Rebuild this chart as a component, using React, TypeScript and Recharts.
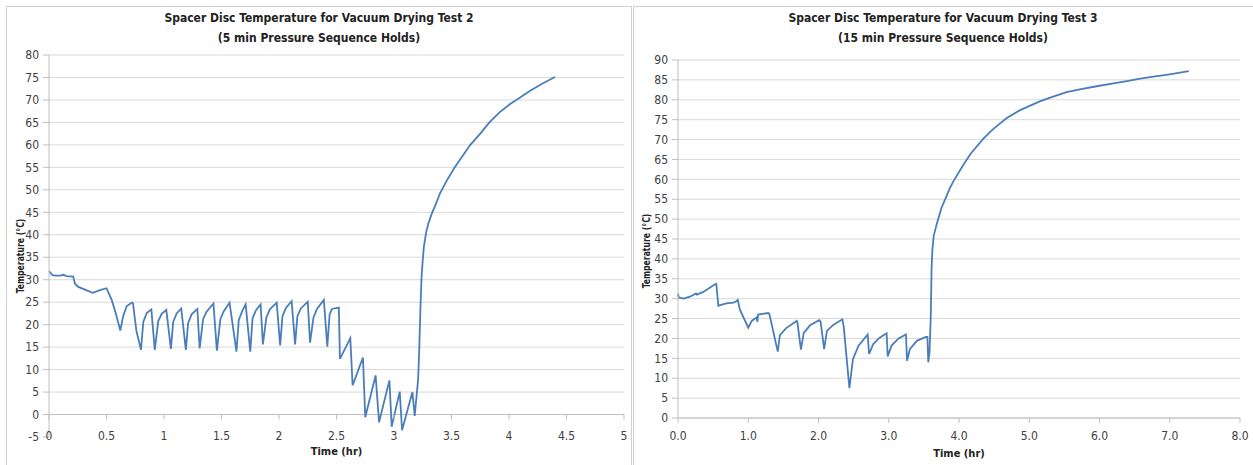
import React from 'react';
import { LineChart, Line, XAxis, YAxis, CartesianGrid, ReferenceLine } from 'recharts';

// ---- Test 2 (left chart) ----
const test2Time = [
  0, 0.015, 0.03, 0.06, 0.096, 0.125, 0.15, 0.21, 0.226, 0.255, 0.313, 0.38, 0.443, 0.5,
  0.545, 0.58, 0.62, 0.645, 0.675, 0.72, 0.73,
  0.76, 0.8, 0.82, 0.85, 0.89,
  0.92, 0.95, 0.98, 1.02,
  1.06, 1.08, 1.11, 1.15,
  1.19, 1.21, 1.24, 1.29,
  1.31, 1.34, 1.37, 1.43,
  1.46, 1.49, 1.52, 1.57,
  1.63, 1.65, 1.68, 1.71,
  1.75, 1.77, 1.8, 1.84,
  1.86, 1.89, 1.92, 1.98,
  2.01, 2.03, 2.06, 2.11,
  2.14, 2.16, 2.19, 2.25,
  2.27, 2.3, 2.33, 2.39,
  2.42, 2.44, 2.46, 2.52,
  2.53, 2.62,
  2.64, 2.73,
  2.75, 2.84,
  2.87, 2.96,
  2.98, 3.05,
  3.07, 3.16,
  3.18, 3.21, 3.22, 3.23, 3.24, 3.25, 3.26, 3.28, 3.3, 3.33, 3.36, 3.4, 3.46, 3.52, 3.59, 3.66,
  3.75, 3.83, 3.92, 4.01, 4.1, 4.18, 4.28, 4.4,
];
const test2Temp = [
  31.9, 31.5, 31.0, 30.9, 30.9, 31.1, 30.8, 30.7, 29.1, 28.4, 27.8, 27.1, 27.7, 28.1,
  25.5, 22.6, 18.7, 21.9, 24.1, 24.9, 24.8,
  18.6, 14.4, 20.6, 22.6, 23.4,
  14.4, 20.8, 22.4, 23.3,
  14.6, 20.6, 22.5, 23.6,
  14.4, 20.4, 22.3, 23.5,
  14.7, 21.2, 22.9, 24.7,
  14.2, 21.2, 23.0, 24.9,
  14.0, 21.0, 23.0, 24.5,
  14.0, 21.4, 23.2, 24.5,
  15.6, 21.6, 23.4, 24.9,
  15.4, 21.9, 23.7, 25.2,
  15.6, 21.9, 23.6, 25.1,
  16.0, 21.6, 23.5, 25.5,
  15.1, 22.2, 23.5, 23.8,
  12.4, 17.0,
  6.5, 12.7,
  -0.6, 8.7,
  -1.7, 7.6,
  -2.7, 5.1,
  -3.5, 5.0,
  -0.3, 7.9, 14.9, 23.8, 30.8, 34.4, 37.4, 40.6, 42.6, 44.8, 46.6, 49.2, 52.1, 54.7, 57.3, 59.9,
  62.5, 65.0, 67.3, 69.1, 70.6, 72.0, 73.5, 75.1,
];
const test2XTicks = [0, 0.5, 1, 1.5, 2, 2.5, 3, 3.5, 4, 4.5, 5];
const test2YTicks = [-5, 0, 5, 10, 15, 20, 25, 30, 35, 40, 45, 50, 55, 60, 65, 70, 75, 80];

// ---- Test 3 (right chart) ----
const test3Time = [
  0, 0.01, 0.08, 0.17, 0.256, 0.27, 0.36, 0.527, 0.545, 0.575, 0.6, 0.69, 0.79, 0.835, 0.85,
  0.88, 1.0, 1.05, 1.12, 1.13, 1.14, 1.2, 1.285, 1.3,
  1.42, 1.45, 1.54, 1.69, 1.7,
  1.75, 1.79, 1.88, 2.01, 2.03,
  2.08, 2.12, 2.21, 2.34, 2.36,
  2.44, 2.49, 2.57, 2.7,
  2.72, 2.78, 2.87, 2.97,
  2.985, 3.04, 3.14, 3.245,
  3.26, 3.3, 3.4, 3.53, 3.55,
  3.563, 3.58, 3.597, 3.605, 3.61, 3.62, 3.64, 3.68, 3.75, 3.87, 3.92, 4.06, 4.16, 4.35, 4.49,
  4.68, 4.87, 5.15, 5.34, 5.53, 5.72, 5.96, 6.2, 6.39, 6.58, 6.77, 7.0, 7.27,
];
const test3Temp = [
  31.3, 30.3, 30.0, 30.5, 31.3, 31.0, 31.7, 33.6, 33.7, 28.2, 28.4, 28.8, 29.0, 29.4, 29.7,
  27.3, 22.7, 24.4, 25.3, 24.2, 26.0, 26.2, 26.4, 26.2,
  16.7, 20.8, 22.6, 24.4, 24.0,
  17.2, 21.4, 23.3, 24.6, 24.2,
  17.3, 21.9, 23.4, 24.8, 22.8,
  7.5, 14.8, 18.2, 21.0,
  16.1, 18.6, 20.2, 21.3,
  15.5, 18.2, 20.0, 21.0,
  14.4, 17.3, 19.4, 20.4, 20.4,
  14.0, 16.5, 24.8, 32.7, 37.7, 42.0, 45.8, 48.6, 52.8, 57.8, 59.5, 63.6, 66.3, 70.3, 72.7,
  75.4, 77.4, 79.6, 80.8, 81.9, 82.6, 83.4, 84.1, 84.7, 85.3, 85.8, 86.4, 87.2,
];
const test3XTicks = [0, 1, 2, 3, 4, 5, 6, 7, 8];
const test3YTicks = [0, 5, 10, 15, 20, 25, 30, 35, 40, 45, 50, 55, 60, 65, 70, 75, 80, 85, 90];

const test2Data = test2Time.map((t, i) => ({ t, temp: test2Temp[i] }));
const test3Data = test3Time.map((t, i) => ({ t, temp: test3Temp[i] }));

const FONT = "'Liberation Sans Narrow', 'DejaVu Sans Condensed', 'Liberation Sans', Arial, sans-serif";
const LINE = '#4a7ebb';
const GRID = '#d9d9d9';
const AXIS = '#bfbfbf';
const TXT = '#404040';

// left chart layout
const L_W = 624, L_H = 458;
const L_MARGIN = { top: 48, right: 7, bottom: 8, left: 6 };
const L_YW = 36, L_XH = 20;
const L_PLOT_H = L_H - L_MARGIN.top - L_MARGIN.bottom - L_XH;
const L_ZERO_OFFSET = (L_PLOT_H * (0 - -5)) / (80 - -5);

// right chart layout
const R_W = 620, R_H = 458;
const R_MARGIN = { top: 53, right: 13, bottom: 17, left: 7 };
const R_YW = 38, R_XH = 30;

const LeftXTick = (props: any) => {
  const { x, y, payload } = props;
  const y0 = y - L_ZERO_OFFSET;
  return (
    <g>
      <line x1={x} x2={x} y1={y0} y2={y0 + 5} stroke={AXIS} strokeWidth={1} />
      <text x={x} y={y - 1} textAnchor="middle" dominantBaseline="central" fill={TXT} fontSize={12} fontFamily={FONT}>
        {String(payload.value)}
      </text>
    </g>
  );
};

const titleStyle: React.CSSProperties = {
  position: 'absolute',
  fontFamily: FONT,
  fontWeight: 'bold',
  fontSize: 12,
  color: '#222',
  textAlign: 'center',
  lineHeight: '20px',
  whiteSpace: 'nowrap',
};

const axisTitleStyle: React.CSSProperties = {
  position: 'absolute',
  fontFamily: FONT,
  fontWeight: 'bold',
  fontSize: 11,
  color: '#222',
  whiteSpace: 'nowrap',
  lineHeight: '12px',
};

export default function App() {
  return (
    <div style={{ position: 'absolute', left: 0, top: 0, width: 1253, height: 465, background: '#fff', overflow: 'hidden' }}>
      {/* panel frames */}
      <div style={{ position: 'absolute', left: 6, top: 6, width: 624, height: 470, border: '1px solid #d0d0d0' }} />
      <div style={{ position: 'absolute', left: 633, top: 6, width: 630, height: 470, border: '1px solid #d0d0d0' }} />

      {/* left chart */}
      <div style={{ position: 'absolute', left: 7, top: 7, width: L_W, height: L_H }}>
        <LineChart width={L_W} height={L_H} data={test2Data} margin={L_MARGIN}>
          <CartesianGrid vertical={false} stroke={GRID} horizontalValues={test2YTicks.filter((v) => v > -5)} />
          <XAxis
            dataKey="t"
            type="number"
            domain={[0, 5]}
            ticks={test2XTicks}
            height={L_XH}
            axisLine={false}
            tickLine={false}
            tickSize={0}
            tickMargin={0}
            tick={<LeftXTick />}
            interval={0}
          />
          <YAxis
            type="number"
            domain={[-5, 80]}
            ticks={test2YTicks}
            width={L_YW}
            interval={0}
            axisLine={{ stroke: AXIS }}
            tickLine={{ stroke: AXIS }}
            tickSize={6}
            tickMargin={4}
            tick={{ fill: TXT, fontSize: 12, fontFamily: FONT }}
          />
          <ReferenceLine y={0} stroke={AXIS} strokeWidth={1} />
          <Line type="linear" dataKey="temp" stroke={LINE} strokeWidth={1.8} dot={false} isAnimationActive={false} />
        </LineChart>
      </div>

      {/* right chart */}
      <div style={{ position: 'absolute', left: 633, top: 7, width: R_W, height: R_H }}>
        <LineChart width={R_W} height={R_H} data={test3Data} margin={R_MARGIN}>
          <CartesianGrid vertical={false} stroke={GRID} horizontalValues={test3YTicks} />
          <XAxis
            dataKey="t"
            type="number"
            domain={[0, 8]}
            ticks={test3XTicks}
            height={R_XH}
            interval={0}
            axisLine={{ stroke: AXIS }}
            tickLine={{ stroke: AXIS }}
            tickSize={5}
            tickMargin={8}
            tickFormatter={(v: number) => v.toFixed(1)}
            tick={{ fill: TXT, fontSize: 12, fontFamily: FONT }}
          />
          <YAxis
            type="number"
            domain={[0, 90]}
            ticks={test3YTicks}
            width={R_YW}
            interval={0}
            axisLine={{ stroke: AXIS }}
            tickLine={{ stroke: AXIS }}
            tickSize={6}
            tickMargin={4}
            tick={{ fill: TXT, fontSize: 12, fontFamily: FONT }}
          />
          <Line type="linear" dataKey="temp" stroke={LINE} strokeWidth={1.8} dot={false} isAnimationActive={false} />
        </LineChart>
      </div>

      {/* titles */}
      <div style={{ ...titleStyle, left: 7, width: 624, top: 8 }}>
        Spacer Disc Temperature for Vacuum Drying Test 2<br />(5 min Pressure Sequence Holds)
      </div>
      <div style={{ ...titleStyle, left: 633, width: 620, top: 8 }}>
        Spacer Disc Temperature for Vacuum Drying Test 3<br />(15 min Pressure Sequence Holds)
      </div>

      {/* x axis titles */}
      <div style={{ ...axisTitleStyle, left: 49, width: 575, textAlign: 'center', top: 446 }}>Time (hr)</div>
      <div style={{ ...axisTitleStyle, left: 678, width: 562, textAlign: 'center', top: 448 }}>Time (hr)</div>

      {/* y axis titles */}
      <div style={{ ...axisTitleStyle, left: 21, top: 256, width: 0, height: 0 }}>
        <div style={{ position: 'absolute', left: 0, top: 0, transform: 'translate(-50%, -50%) rotate(-90deg) scale(0.78, 1)' }}>Temperature (°C)</div>
      </div>
      <div style={{ ...axisTitleStyle, left: 647, top: 251, width: 0, height: 0 }}>
        <div style={{ position: 'absolute', left: 0, top: 0, transform: 'translate(-50%, -50%) rotate(-90deg) scale(0.78, 1)' }}>Temperature (°C)</div>
      </div>
    </div>
  );
}
